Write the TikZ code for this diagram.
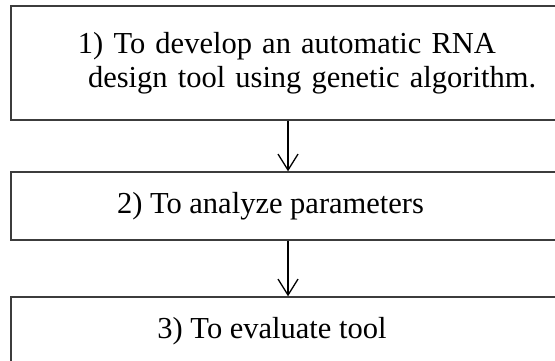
\documentclass[tikz,border=0pt]{standalone}
\usepackage{fontspec}
\setmainfont{Liberation Serif}
\usetikzlibrary{arrows.meta,positioning}
\definecolor{frame}{RGB}{60,60,60}
\tikzset{
  >={Straight Barb[length=16pt,width=20pt]},
  aim/.style={draw=frame,line width=1.4pt,minimum width=554pt,
    minimum height=#1,inner sep=0pt,align=center,
    font=\fontsize{30.5}{34}\selectfont},
  aim/.default=68pt,
  flow/.style={->,line width=1.3pt,draw=black},
}
\begin{document}
\begin{tikzpicture}[x=1pt,y=-1pt]
  \useasboundingbox (0,0) rectangle (555,361);
  \clip (0,0) rectangle (555,361);
  \node[aim=114pt,text width=520pt,align=left] (a1) at (288,63) {\hspace*{50pt}1) To develop an automatic RNA\\\hspace*{60pt}design tool using genetic algorithm.};
  \node[aim] (a2) at (288,206) {\hspace*{-35pt}2) To analyze parameters};
  \node[aim] (a3) at (288,331) {\raisebox{5pt}{\hspace*{-32pt}3) To evaluate tool}};
  \draw[flow] (a1) -- (a2);
  \draw[flow] (a2) -- (a3);
\end{tikzpicture}
\end{document}
